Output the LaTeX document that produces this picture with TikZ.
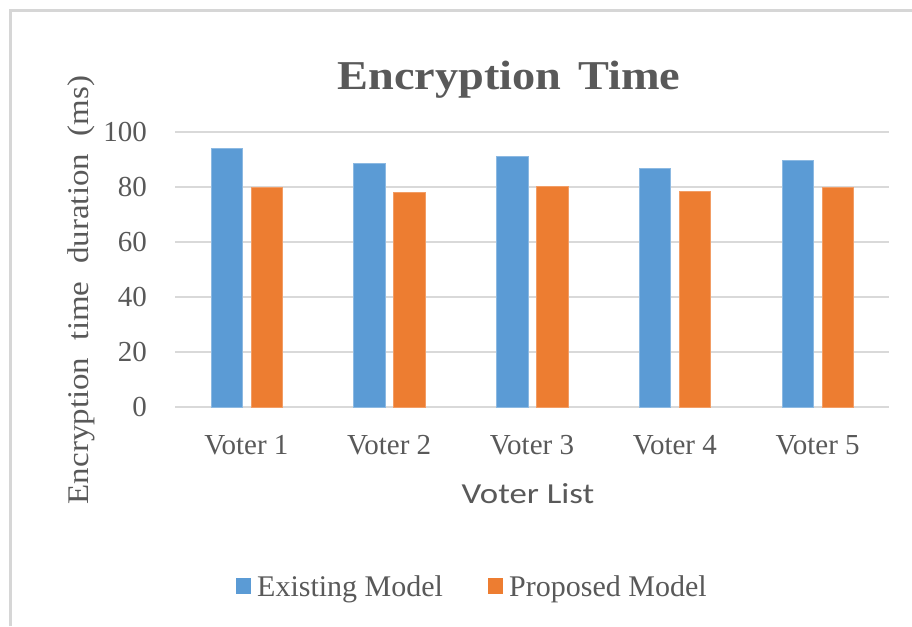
\documentclass[tikz,border=0pt]{standalone}
\usepackage{fontspec}
\setmainfont{Liberation Serif}
\newfontfamily\labelsans{Carlito}
\usepackage{graphicx}
\definecolor{txtgray}{HTML}{595959}
\definecolor{gridgray}{HTML}{D9D9D9}
\definecolor{framegray}{HTML}{D6D6D6}
\definecolor{barblue}{HTML}{5B9BD5}
\definecolor{barorange}{HTML}{ED7D31}
\tikzset{
  gridline/.style={draw=gridgray, line width=1.6pt},
  frameline/.style={draw=framegray, line width=3pt},
  existing/.style={fill=barblue, draw=barblue!70!white, line width=0.8pt},
  proposed/.style={fill=barorange, draw=barorange!75!white, line width=0.8pt},
  ticklab/.style={inner sep=0pt, text=txtgray, font=\fontsize{29pt}{34pt}\selectfont},
  legtext/.style={inner sep=0pt, text=txtgray, anchor=base west, font=\fontsize{30pt}{35pt}\selectfont},
}
\begin{document}
\begin{tikzpicture}[x=1pt,y=-1pt]
\useasboundingbox (0,0) rectangle (912,626);
\fill[white] (0,0) rectangle (912,626);
% chart frame (top and left edges visible)
\draw[frameline] (10.5,626) -- (10.5,10.5) -- (912,10.5);
% title
\node[inner sep=0pt, anchor=base, text=txtgray, font=\fontsize{41pt}{48pt}\selectfont\bfseries] (title) at (509,89)
  {\scalebox{1.13}[1]{Encryption\hspace{15pt}Time}};
% gridlines and y tick labels
\foreach \v in {0,20,40,60,80,100} {
  \draw[gridline] (175,{407-2.75*\v}) -- (889,{407-2.75*\v});
  \node[ticklab, anchor=east] (yl\v) at (147,{407-2.75*\v}) {\v};
}
% bars and category labels
\foreach \i/\a/\b in {1/94/80, 2/88.6/78.1, 3/91/80.2, 4/86.8/78.4, 5/89.8/79.7} {
  \pgfmathsetmacro\c{175+142.8*(\i-0.5)}
  \filldraw[existing] (\c-35.5,407) rectangle (\c-4,{407-2.75*\a});
  \filldraw[proposed] (\c+4.5,407) rectangle (\c+36,{407-2.75*\b});
  \node[ticklab, anchor=base] (xl\i) at (\c,454) {Voter \i};
}
% axis titles
\node[inner sep=0pt, anchor=base, text=txtgray, font=\labelsans\fontsize{29pt}{34pt}\selectfont] (xtitle) at (528,503)
  {\scalebox{1.2}[1]{Voter List}};
\node[inner sep=0pt, anchor=base, rotate=90, text=txtgray, font=\fontsize{30pt}{35pt}\selectfont] (ytitle) at (88,290)
  {\scalebox{1.1}[1]{Encryption\hspace{16pt}time\hspace{16pt}duration\hspace{16pt}(ms)}};
% legend
\fill[barblue] (236,578) rectangle (251,594);
\node[legtext] (leg1) at (257,596) {Existing Model};
\fill[barorange] (488,578) rectangle (503,594);
\node[legtext] (leg2) at (509,596) {Proposed Model};
\end{tikzpicture}
\end{document}
